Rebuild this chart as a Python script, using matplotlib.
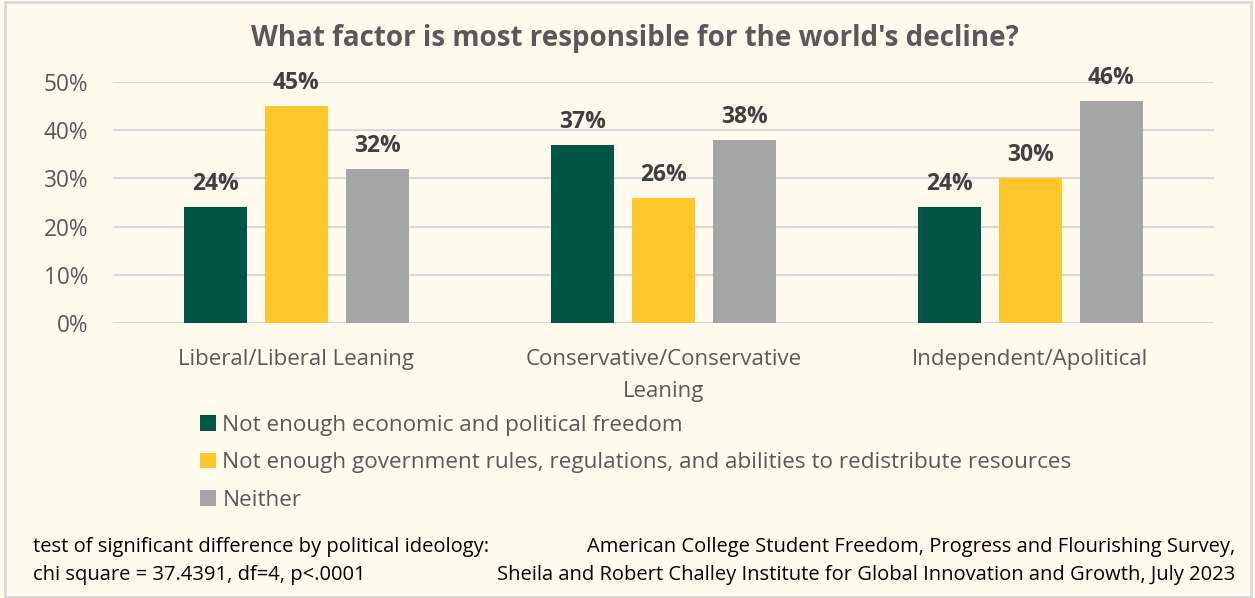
import matplotlib.pyplot as plt
from matplotlib.patches import Patch, Rectangle

categories = ["Liberal/Liberal Leaning", "Conservative/Conservative\nLeaning", "Independent/Apolitical"]
series_names = [
    "Not enough economic and political freedom",
    "Not enough government rules, regulations, and abilities to redistribute resources",
    "Neither",
]
freedom = [24, 37, 24]
regulation = [45, 26, 30]
neither = [32, 38, 46]
yticks = [0, 10, 20, 30, 40, 50]

colors = ["#005544", "#FFC72C", "#A5A5A5"]
bg = "#FEFAEE"
text_gray = "#595959"

plt.rcParams["font.family"] = ["Open Sans", "DejaVu Sans"]

fig = plt.figure(figsize=(12.55, 5.98), dpi=100, facecolor=bg)
fig.patches.append(Rectangle((0.004, 0.002), 0.993, 0.994, transform=fig.transFigure,
                             facecolor="none", edgecolor="#D9D9D9", linewidth=2))

ax = fig.add_axes([0.090, 0.4599, 0.877, 0.4030])
ax.set_facecolor(bg)

width = 0.172
offset = 0.221
for i, (vals, col) in enumerate(zip([freedom, regulation, neither], colors)):
    xs = [c + (i - 1) * offset for c in range(len(categories))]
    bars = ax.bar(xs, vals, width=width, color=col, zorder=3)
    for b, v in zip(bars, vals):
        ax.annotate(f"{v}%", (b.get_x() + b.get_width() / 2, v), xytext=(0, 8),
                    textcoords="offset points", ha="center", va="bottom",
                    fontsize=16.5, fontweight="bold", color="#404040", annotation_clip=False)

ax.set_xlim(-0.5, 2.5)
ax.set_ylim(0, 50)
ax.set_yticks(yticks)
ax.set_yticklabels([f"{t}%" for t in yticks], fontsize=16.3, color=text_gray)
ax.set_xticks(range(len(categories)))
ax.set_xticklabels(categories, fontsize=16, color=text_gray, linespacing=1.65)
ax.tick_params(axis="both", length=0)
ax.tick_params(axis="y", pad=18)
ax.tick_params(axis="x", pad=19)
ax.yaxis.grid(True, color="#D9D9D9", linewidth=1.5, zorder=0)
for s in ax.spines.values():
    s.set_visible(False)

fig.text(0.5056, 0.936, "What factor is most responsible for the world's decline?",
         ha="center", va="center", fontsize=20, fontweight="bold", color=text_gray)

handles = [Patch(facecolor=c, edgecolor="none") for c in colors]
fig.legend(handles, series_names, loc="upper left", bbox_to_anchor=(0.152, 0.321),
           frameon=False, fontsize=16.2, handlelength=0.7, handleheight=0.7,
           handletextpad=0.3, labelspacing=0.73, labelcolor=text_gray, borderaxespad=0)

fig.text(0.026, 0.062, "test of significant difference by political ideology:\nchi square = 37.4391, df=4, p<.0001",
         ha="left", va="center", fontsize=14.5, color="#000000", linespacing=1.55)
fig.text(0.984, 0.062, "American College Student Freedom, Progress and Flourishing Survey,\nSheila and Robert Challey Institute for Global Innovation and Growth, July 2023",
         ha="right", va="center", fontsize=14.5, color="#000000", linespacing=1.55, multialignment="right")

fig.savefig("out.png", dpi=100, facecolor=bg)
